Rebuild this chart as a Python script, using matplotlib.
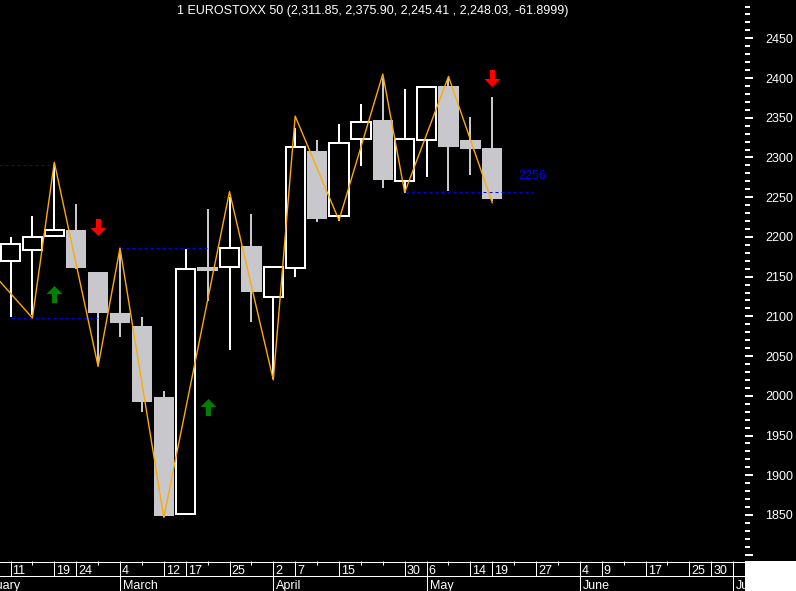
import matplotlib
matplotlib.use("Agg")
import matplotlib.pyplot as plt
from matplotlib.patches import Rectangle
import numpy as np

plt.rcParams['font.family'] = ['Liberation Sans', 'DejaVu Sans']

W, H, DPI = 796, 591, 100
PX = 72.0 / DPI          # points in one pixel

# weekly candles, index 0 = first visible week
opens  = [2169.7, 2183.5, 2201.2, 2208.7, 2155.9, 2104.2, 2088.3, 1998.5, 1851.3, 2161.8, 2161.8, 2188.6,
          2124.0, 2160.5, 2308.5, 2226.3, 2322.9, 2347.2, 2270.4, 2322.0, 2390.0, 2322.0, 2311.85]
highs  = [2199.5, 2226.7, 2290.0, 2241.4, 2156.0, 2180.1, 2099.6, 2006.1, 2184.4, 2234.8, 2250.6, 2228.9,
          2162.5, 2336.7, 2322.0, 2342.1, 2367.3, 2400.0, 2385.8, 2390.0, 2400.0, 2350.6, 2375.90]
lows   = [2099.6, 2101.7, 2200.0, 2160.0, 2040.9, 2074.4, 1980.0, 1848.0, 1850.0, 2119.7, 2057.7, 2093.3,
          2020.8, 2149.9, 2219.2, 2220.4, 2289.3, 2262.0, 2254.9, 2275.8, 2258.2, 2277.9, 2245.41]
closes = [2190.7, 2200.3, 2208.3, 2161.3, 2104.6, 2092.0, 1992.6, 1849.1, 2159.3, 2157.5, 2185.7, 2131.1,
          2161.8, 2313.6, 2222.6, 2317.8, 2344.3, 2271.6, 2323.3, 2389.1, 2313.6, 2311.0, 2248.03]

# zigzag pivots
zz_idx = [-1, 1, 2, 4, 5, 7, 10, 12, 13, 15, 17, 18, 20, 22]
zz_val = [2160, 2098, 2294, 2037, 2186, 1847, 2257, 2020, 2352, 2221, 2405, 2256, 2402, 2243]

# dotted support / resistance lines
sup_start = [-1, 0, 5, 18]
sup_end   = [1.95, 3.95, 9, 23.85]
sup_val   = [2290, 2098, 2186, 2256]

buy_idx, buy_val = [2, 9], [2128, 1986]
sell_idx, sell_val = [4, 22], [2213, 2400]

day_idx = [0, 2, 3, 5, 7, 8, 10, 12, 13, 15, 18, 19, 21, 22, 24, 26, 27, 29, 31, 32, 33]
day_lab = ["11", "19", "24", "4", "12", "17", "25", "2", "7", "15", "30", "6", "14", "19", "27",
           "4", "9", "17", "25", "30", ""]
tick_idx = [1, 4, 6, 9, 11, 14, 16, 17, 20, 23, 25, 28, 30]
month_idx = [-2, 5, 12, 19, 26, 33]
month_lab = ["February", "March", "April", "May", "June", "July"]

title = "1 EUROSTOXX 50 (2,311.85, 2,375.90, 2,245.41 , 2,248.03, -61.8999)"

GREY = '#c8c8cc'
XLIM = (-0.48, 33.54)
YLIM = (1792.1, 2498.2)

fig = plt.figure(figsize=(W / DPI, H / DPI), dpi=DPI, facecolor='black')
ax = fig.add_axes([0, 30 / H, 745 / W, 561 / H], facecolor='black')
ax.set_xlim(XLIM)
ax.set_ylim(YLIM)

for i in range(len(opens)):
    o, h, l, c = opens[i], highs[i], lows[i], closes[i]
    if c >= o:
        ax.vlines(i, l, h, color='white', lw=2 * PX, zorder=2)
        ax.add_patch(Rectangle((i - 0.44, o), 0.88, c - o, facecolor='black',
                               edgecolor='white', lw=2 * PX, zorder=3))
    else:
        ax.vlines(i, l, h, color=GREY, lw=2 * PX, zorder=2)
        ax.add_patch(Rectangle((i - 0.465, c), 0.93, o - c, facecolor=GREY,
                               edgecolor='none', zorder=3))

ax.plot(zz_idx, zz_val, color='#ffaa00', lw=1.0, zorder=5)

for s, e, v in zip(sup_start, sup_end, sup_val):
    ax.plot([s, e], [v, v], color='#0000ff', lw=1 * PX, linestyle=(0, (3, 3)), zorder=4)
ax.annotate("2256", xy=(23.17, sup_val[3]), xytext=(0, 16 * PX), textcoords='offset points',
            ha='left', va='center', color='#0000ff', fontsize=9)

# arrows as custom markers
up = [(0, 8.5), (8, 0.5), (2.5, 0.5), (2.5, -8.5), (-2.5, -8.5), (-2.5, 0.5), (-8, 0.5), (0, 8.5)]
down = [(x, -y) for x, y in up]
ax.plot(buy_idx, buy_val, linestyle='none', marker=up, markersize=17 * PX,
        color='#008000', markeredgewidth=0, zorder=6)
ax.plot(sell_idx, sell_val, linestyle='none', marker=down, markersize=17 * PX,
        color='#ff0000', markeredgewidth=0, zorder=6)

ax.text(0.5, 1 - 14.3 / 561, title, transform=ax.transAxes, ha='center', va='baseline',
        color='white', fontsize=9)

yt = np.arange(1800, 2451, 50)
ax.yaxis.tick_right()
ax.set_yticks(yt)
ax.set_yticklabels([''] + [str(v) for v in yt[1:]])
ax.set_yticks(np.arange(1800, 2491, 10), minor=True)
ax.tick_params(axis='y', which='major', colors='white', length=8 * PX, width=2 * PX,
               pad=12 * PX, labelsize=9)
ax.tick_params(axis='y', which='minor', colors='white', length=5 * PX, width=2 * PX)
ax.set_xticks([])
for sp in ax.spines.values():
    sp.set_visible(False)

# date axis
axd = fig.add_axes([0, 0, 745 / W, 30 / H], facecolor='black')
axd.set_xlim(XLIM)
axd.set_ylim(0, 30)
axd.axis('off')
axd.axhline(29.5, color='white', lw=1 * PX)
axd.axhline(15, color='white', lw=1 * PX)
axd.vlines(day_idx, 15, 30, color='white', lw=1 * PX)
axd.vlines(tick_idx, 26, 30, color='white', lw=1 * PX)
axd.vlines(month_idx, 0, 15, color='white', lw=1 * PX)
for i, t in zip(day_idx, day_lab):
    axd.annotate(t, xy=(i, 16.7), xytext=(2 * PX, 0), textcoords='offset points',
                 ha='left', va='baseline', color='white', fontsize=9,
                 annotation_clip=False, clip_on=True)
for i, t in zip(month_idx, month_lab):
    axd.annotate(t, xy=(i, 2.0), xytext=(3 * PX, 0), textcoords='offset points',
                 ha='left', va='baseline', color='white', fontsize=9,
                 annotation_clip=False, clip_on=True)

fig.add_artist(Rectangle((745 / W, 0), 51 / W, 30 / H, transform=fig.transFigure,
                         facecolor='white', edgecolor='none'))

fig.savefig('out.png', dpi=DPI, facecolor='black')
